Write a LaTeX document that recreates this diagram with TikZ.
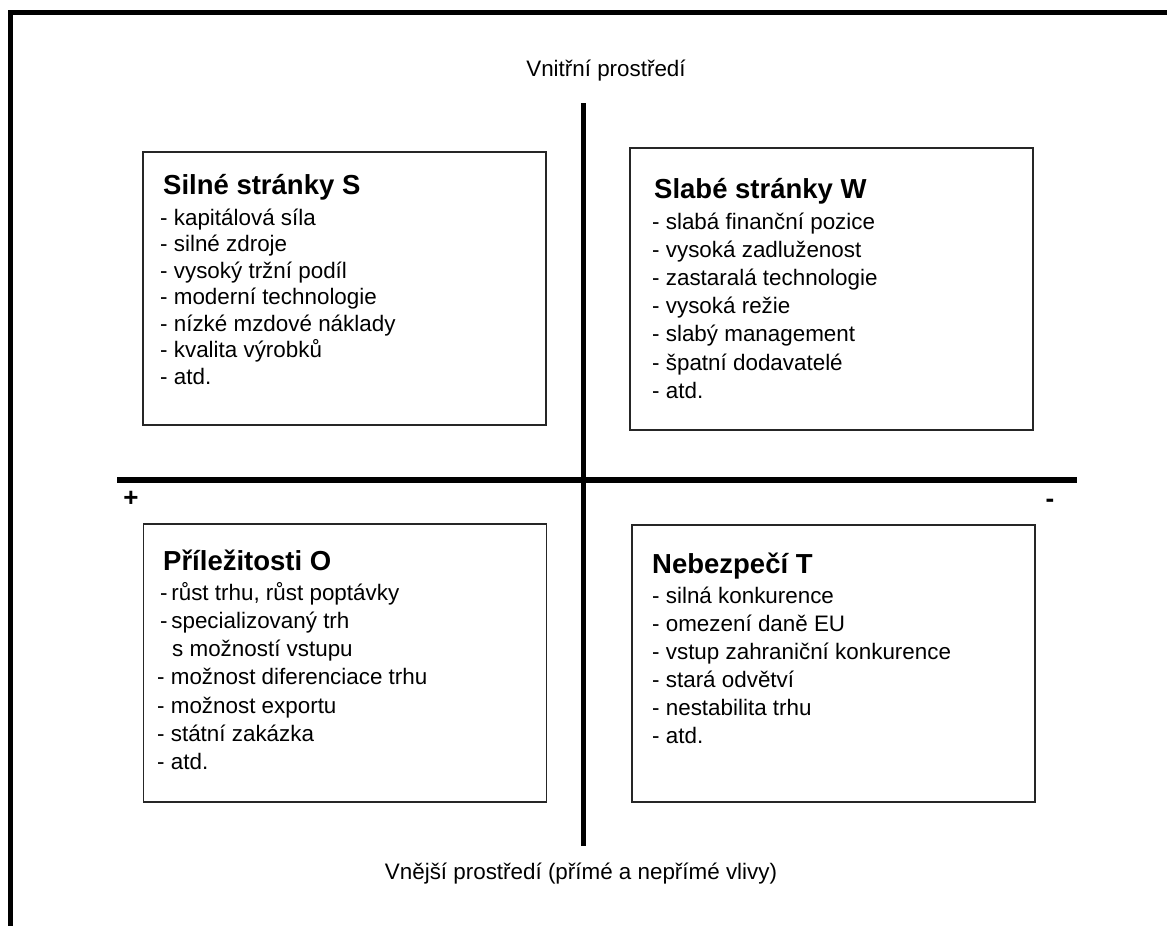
\documentclass[tikz,border=0pt]{standalone}
\usepackage{fontspec}
\setmainfont{Liberation Sans}
\begin{document}
\begin{tikzpicture}[x=1pt,y=-1pt,
  frameline/.style={line width=5pt},
  axisline/.style={line width=5.5pt},
  quad/.style={draw=black!85, line width=1.7pt, minimum width=403pt, inner sep=0pt},
  head/.style={anchor=base west, font=\fontsize{27.5}{32}\selectfont\bfseries, inner sep=0pt},
  item/.style={anchor=base west, font=\fontsize{22.4}{27}\selectfont, inner sep=0pt},
  axislabel/.style={anchor=base, font=\fontsize{22.4}{27}\selectfont, inner sep=0pt},
  signlabel/.style={font=\fontsize{26}{30}\selectfont\bfseries, inner sep=0pt}]
\useasboundingbox (0,0) rectangle (1167,926);

% outer frame (top and left edges)
\coordinate (fbl) at (10.5,926);
\coordinate (ftl) at (10.5,12.5);
\coordinate (ftr) at (1167,12.5);
\draw[frameline] (fbl) -- (ftl) -- (ftr);

% axes
\coordinate (vtop) at (583.5,103);
\coordinate (vbot) at (583.5,846);
\coordinate (hleft) at (117,480);
\coordinate (hright) at (1077,480);
\draw[axisline] (vtop) -- (vbot);
\draw[axisline] (hleft) -- (hright);

% axis labels
\node[axislabel] (inner) at (606,76) {Vnitřní prostředí};
\node[axislabel] (outer) at (581,879) {Vnější prostředí (přímé a nepřímé vlivy)};
\node[signlabel] (plus) at (131,499) {+};
\node[signlabel] (minus) at (1050,503) {-};

% quadrant boxes
\node[quad, minimum height=273pt] (S) at (344.5,288.5) {};
\node[quad, minimum height=282pt] (W) at (831.5,289) {};
\node[quad, minimum height=278pt] (O) at (345,663) {};
\node[quad, minimum height=277pt] (T) at (833.5,663.5) {};

% strengths
\node[head] (Sh) at (163,194) {Silné stránky S};
\foreach \t [count=\i] in {kapitálová síla, silné zdroje, vysoký tržní podíl,
    moderní technologie, nízké mzdové náklady, kvalita výrobků, atd.}
  \node[item] (S\i) at (160,{225+(\i-1)*26.5}) {- \t};

% weaknesses
\node[head] (Wh) at (654,198) {Slabé stránky W};
\foreach \t [count=\i] in {slabá finanční pozice, vysoká zadluženost,
    zastaralá technologie, vysoká režie, slabý management,
    špatní dodavatelé, atd.}
  \node[item] (W\i) at (652,{229+(\i-1)*28.2}) {- \t};

% opportunities
\node[head] (Oh) at (163,570) {Příležitosti O};
\node[item] (O1) at (160,600) {-\,růst trhu, růst poptávky};
\node[item] (O2) at (160,628.3) {-\,specializovaný trh};
\node[item] (O3) at (172,656.6) {s možností vstupu};
\node[item] (O4) at (157,684.9) {- možnost diferenciace trhu};
\node[item] (O5) at (157,713.2) {- možnost exportu};
\node[item] (O6) at (157,741.5) {- státní zakázka};
\node[item] (O7) at (157,769.8) {- atd.};

% threats
\node[head] (Th) at (652,573) {Nebezpečí T};
\foreach \t [count=\i] in {silná konkurence, omezení daně EU,
    vstup zahraniční konkurence, stará odvětví, nestabilita trhu, atd.}
  \node[item] (T\i) at (652,{603+(\i-1)*28}) {- \t};
\end{tikzpicture}
\end{document}
